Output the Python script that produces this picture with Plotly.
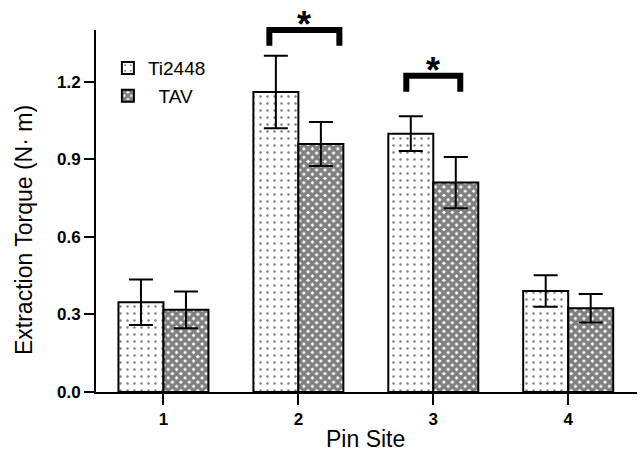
import plotly.graph_objects as go

# ---- data ----
pin_sites = [1, 2, 3, 4]
tick_labels = ["1", "2", "3", "4"]
ti2448_mean = [0.347, 1.160, 0.999, 0.391]
ti2448_err = [0.088, 0.140, 0.067, 0.061]
tav_mean = [0.318, 0.959, 0.810, 0.324]
tav_err = [0.071, 0.085, 0.099, 0.055]
y_ticks = [0.0, 0.3, 0.6, 0.9, 1.2]
series_names = ["Ti2448", "\u00a0\u00a0TAV"]

# significance brackets (x extent in pin-site units, y of top bar and leg ends)
sig_x0 = [1.785, 2.80]
sig_x1 = [2.304, 3.20]
sig_top = [1.400, 1.223]
sig_leg = [1.339, 1.161]
sig_text = ["*", "*"]

X_RANGE = [0.5, 4.51]
Y_RANGE = [0.0, 1.40]

FONT = "Liberation Sans, Arial, sans-serif"


def xd(v):
    return (v - X_RANGE[0]) / (X_RANGE[1] - X_RANGE[0])


def yd(v):
    return (v - Y_RANGE[0]) / (Y_RANGE[1] - Y_RANGE[0])


fig = go.Figure()
fig.add_trace(go.Bar(
    name=series_names[0], x=pin_sites, y=ti2448_mean,
    error_y=dict(type="data", array=ti2448_err, color="black", thickness=2, width=12),
    marker=dict(color="white", line=dict(color="black", width=2),
                pattern=dict(shape=".", size=7, solidity=0.1, fgcolor="black", bgcolor="white")),
))
fig.add_trace(go.Bar(
    name=series_names[1], x=pin_sites, y=tav_mean,
    error_y=dict(type="data", array=tav_err, color="black", thickness=2, width=12),
    marker=dict(color="white", line=dict(color="black", width=2),
                pattern=dict(shape="x", size=6, solidity=0.8, fgcolor="black", bgcolor="white")),
))

shapes = []
annotations = []
for x0, x1, yt, yl, t in zip(sig_x0, sig_x1, sig_top, sig_leg, sig_text):
    shapes.append(dict(
        type="path", xref="x domain", yref="y domain",
        path=f"M {xd(x0)} {yd(yl)} L {xd(x0)} {yd(yt)} L {xd(x1)} {yd(yt)} L {xd(x1)} {yd(yl)}",
        line=dict(color="black", width=6),
    ))
    annotations.append(dict(
        xref="x domain", yref="y domain", x=xd((x0 + x1) / 2), y=yd(yt),
        text=f"<b>{t}</b>", showarrow=False, xanchor="center", yanchor="bottom",
        yshift=-17, font=dict(family=FONT, size=36, color="black"),
    ))

annotations.append(dict(
    xref="paper", yref="paper", x=-0.134, y=0.446,
    text="Extraction Torque (N· m)", textangle=-90, showarrow=False,
    xanchor="center", yanchor="middle",
    font=dict(family=FONT, size=23, color="black"),
))
annotations.append(dict(
    xref="paper", yref="paper", x=0.498, y=-0.13,
    text="Pin Site", showarrow=False,
    xanchor="center", yanchor="middle",
    font=dict(family=FONT, size=23, color="black"),
))

fig.update_layout(
    width=643, height=452,
    margin=dict(l=96, r=6, t=30, b=60, autoexpand=False),
    paper_bgcolor="white", plot_bgcolor="white",
    barmode="group", bargap=0.333, bargroupgap=0,
    font=dict(family=FONT, color="black"),
    showlegend=True,
    legend=dict(x=0.022, y=0.947, xanchor="left", yanchor="top",
                font=dict(family=FONT, size=19, color="black"),
                bgcolor="rgba(0,0,0,0)"),
    shapes=shapes, annotations=annotations,
)
fig.update_xaxes(
    range=X_RANGE, tickvals=pin_sites, ticktext=tick_labels,
    showline=True, linecolor="black", linewidth=2, mirror=False,
    ticks="outside", ticklen=11, tickwidth=2, tickcolor="black",
    tickfont=dict(family=FONT, size=17, color="black", weight="bold"),
    showgrid=False, zeroline=False, automargin=False,
)
fig.update_yaxes(
    range=Y_RANGE, tickvals=y_ticks, tickformat=".1f",
    showline=True, linecolor="black", linewidth=2,
    ticks="outside", ticklen=10, tickwidth=2, tickcolor="black",
    tickfont=dict(family=FONT, size=17, color="black", weight="bold"),
    showgrid=False, zeroline=False, automargin=False,
)

fig.write_html(
    "out.html",
    config={"displayModeBar": False},
    post_script="document.body.style.margin='0';document.body.style.overflow='hidden';",
)
